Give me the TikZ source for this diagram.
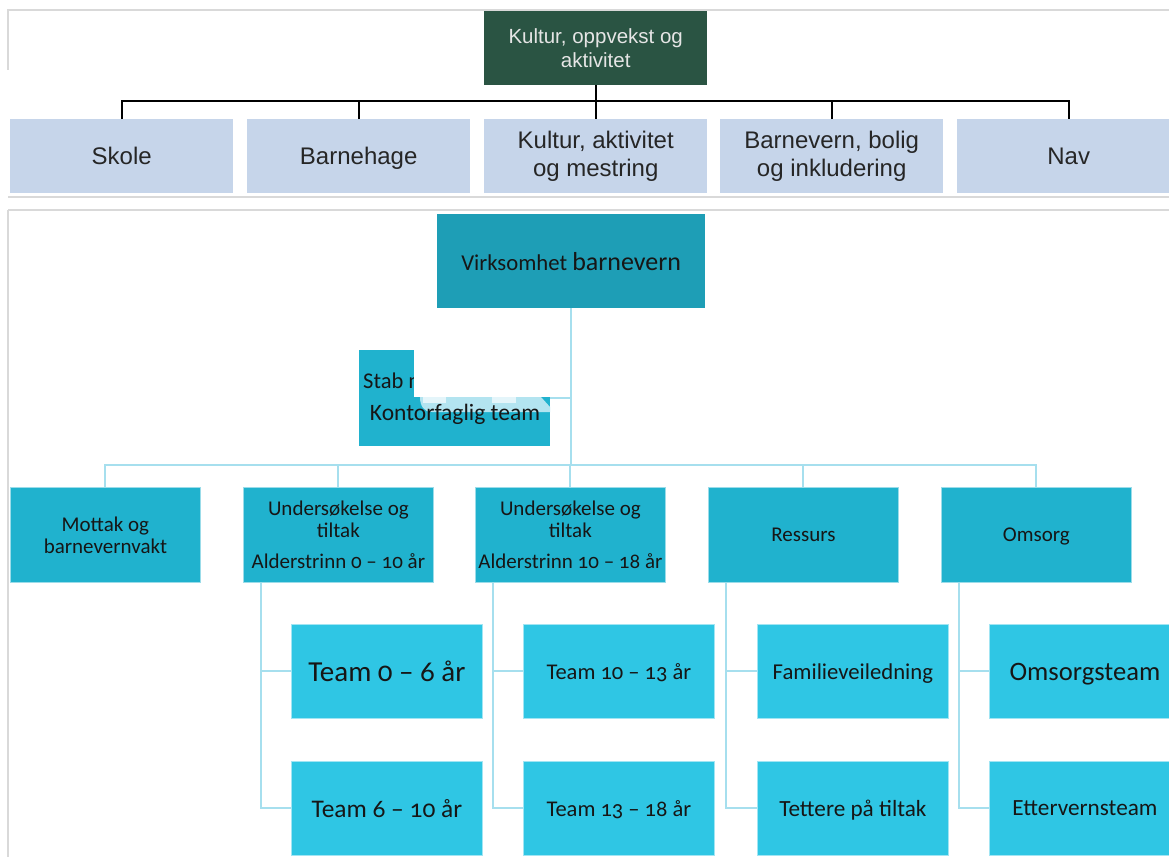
\documentclass[tikz,border=0pt]{standalone}
\usepackage{fontspec}
\setmainfont{Carlito}[Numbers=OldStyle]
\newfontfamily\arialf{Liberation Sans}
\usetikzlibrary{calc}
\definecolor{topblue}{HTML}{C6D5EA}
\definecolor{topgreen}{HTML}{2A5443}
\definecolor{virkc}{HTML}{1E9EB6}
\definecolor{lvlc}{HTML}{20B2CE}
\definecolor{kidc}{HTML}{2FC6E4}
\definecolor{connc}{HTML}{A6DFEE}
\definecolor{framec}{HTML}{D9D9D9}
\definecolor{inkc}{HTML}{161616}
\newcommand\oneline[1]{\raisebox{0pt}[\height][0pt]{#1}}
\tikzset{
  anybox/.style={anchor=north west, inner sep=0pt, align=center, text=inkc},
  topbox/.style={anybox, fill=topblue, minimum width=223pt, minimum height=74pt,
    text=black!85, font=\arialf\fontsize{24}{28}\selectfont},
  greenbox/.style={anybox, fill=topgreen, minimum width=223pt, minimum height=74pt,
    text=white!90!black, font=\arialf\fontsize{20.5}{24}\selectfont},
  lvlbox/.style={anybox, fill=lvlc, draw=white!55!lvlc, line width=0.8pt,
    minimum width=190pt, minimum height=95pt, font=\fontsize{21}{22}\selectfont},
  kidbox/.style={anybox, fill=kidc, draw=white!55!kidc, line width=0.8pt,
    minimum width=191pt, minimum height=94pt, font=\fontsize{22.5}{25}\selectfont},
  blackline/.style={draw=black, line width=2pt},
  cyanline/.style={draw=connc, line width=2pt},
  frameline/.style={draw=framec, line width=1.5pt},
}
\begin{document}
\begin{tikzpicture}[x=1pt,y=-1pt]
\useasboundingbox (0,0) rectangle (1169,857);
\clip (0,0) rectangle (1169,857);
\fill[white] (0,0) rectangle (1169,857);
% frames
\draw[frameline] (7,10) -- (1169,10);
\draw[frameline] (8,10) -- (8,70);
\draw[frameline] (8,197) -- (1169,197);
\draw[frameline] (8,210) -- (1169,210);
\draw[frameline] (8,210) -- (8,857);
% top chart
\node[greenbox] (kov) at (484,11) {Kultur, oppvekst og\\aktivitet};
\node[topbox] (skole) at (10,119) {\oneline{Skole}};
\node[topbox] (bhage) at (247,119) {\oneline{Barnehage}};
\node[topbox] (kam) at (484,119) {Kultur, aktivitet\\og mestring};
\node[topbox] (bbi) at (720,119) {Barnevern, bolig\\og inkludering};
\node[topbox] (nav) at (957,119) {\oneline{Nav}};
\coordinate (tbar) at ($(kov.south)!0.47!(kam.north)$);
\draw[blackline] (kov.south) -- (kam.north);
\draw[blackline] (skole.north) |- (tbar) -| (nav.north);
\draw[blackline] (bhage.north) -- (bhage.north |- tbar);
\draw[blackline] (bbi.north) -- (bbi.north |- tbar);
% bottom chart
\node[anybox, fill=virkc, minimum width=268pt, minimum height=94pt] (virk) at (437,214)
  {\fontsize{22.7}{26}\selectfont Virksomhet \fontsize{26}{30}\selectfont barnevern};
\node[anybox, fill=lvlc, minimum width=191pt, minimum height=96pt] (stab) at (359,350) {};
\coordinate (bar) at ($(virk.south)+(0,157)$);
\draw[cyanline] (virk.south) -- (bar);
\draw[cyanline] (stab.east) -- (stab.east -| virk.south);
% light strip (covered part of the Stab box)
\fill[connc!85!white] (420,397) -- (541,397) -- (550,407) -- (550,412) -- (432,412)
  .. controls (424,412) and (420,406) .. (420,397) -- cycle;
\fill[white!70!connc] (423,397) rectangle (446,403);
\fill[white!70!connc] (492,397) rectangle (516,403);
\node[anchor=base west, inner sep=0pt, text=inkc, font=\fontsize{22.5}{26}\selectfont] (stabA) at (363,388) {Stab med};
\node[inner sep=0pt, text=inkc, font=\fontsize{23.5}{27}\selectfont] (stabB) at (455,414) {Kontorfaglig team};
% white cover patch
\fill[white] (414,349) rectangle (570,397);
% level 2
\node[lvlbox] (mottak) at (10,487) {Mottak og\\barnevernvakt};
\node[lvlbox] (u1) at (243,487) {Undersøkelse og\\tiltak\\[9pt]Alderstrinn 0 – 10 år};
\node[lvlbox] (u2) at (475,487) {Undersøkelse og\\tiltak\\[9pt]Alderstrinn 10 – 18 år};
\node[lvlbox] (ress) at (708,487) {\oneline{Ressurs}};
\node[lvlbox] (omsorg) at (941,487) {\oneline{Omsorg}};
\draw[cyanline] (mottak.north) |- (bar) -| (omsorg.north);
\draw[cyanline] (u1.north) -- (u1.north |- bar);
\draw[cyanline] (u2.north) -- (u2.north |- bar);
\draw[cyanline] (ress.north) -- (ress.north |- bar);
% level 3
\node[kidbox, font=\fontsize{29}{32}\selectfont] (t06) at (291,624) {\oneline{Team 0 – 6 år}};
\node[kidbox, font=\fontsize{25.4}{28}\selectfont] (t610) at (291,761) {\oneline{Team 6 – 10 år}};
\node[kidbox] (t1013) at (523,624) {\oneline{Team 10 – 13 år}};
\node[kidbox] (t1318) at (523,761) {\oneline{Team 13 – 18 år}};
\node[kidbox, font=\fontsize{22.7}{26}\selectfont] (fam) at (757,624) {\oneline{Familieveiledning}};
\node[kidbox, font=\fontsize{23.2}{26}\selectfont] (tet) at (757,761) {\oneline{Tettere på tiltak}};
\node[kidbox, font=\fontsize{26.6}{30}\selectfont] (oms) at (989,624) {\oneline{Omsorgsteam}};
\node[kidbox, font=\fontsize{23.2}{26}\selectfont] (ett) at (989,761) {\oneline{Ettervernsteam}};
\foreach \p/\a/\b in {u1/t06/t610, u2/t1013/t1318, ress/fam/tet, omsorg/oms/ett}{
  \coordinate (\p-trunk) at ($(\p.south west)+(18,0)$);
  \draw[cyanline] (\p-trunk) |- (\b.west);
  \draw[cyanline] (\p-trunk) |- (\a.west);
}
\end{tikzpicture}
\end{document}
